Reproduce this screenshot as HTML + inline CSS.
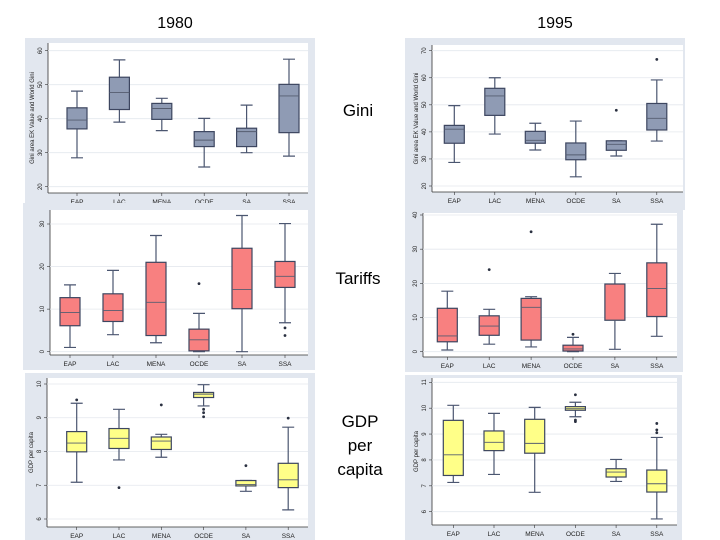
<!DOCTYPE html>
<html><head><meta charset="utf-8"><style>
html,body{margin:0;padding:0;background:#fff;}
svg{display:block;font-family:"Liberation Sans",sans-serif;}
</style></head><body>
<svg id="c" width="720" height="540" viewBox="0 0 720 540">
<text x="175" y="28" font-size="16" text-anchor="middle">1980</text>
<text x="555" y="28" font-size="16" text-anchor="middle">1995</text>
<text x="358" y="116" font-size="17" text-anchor="middle">Gini</text>
<text x="358" y="284" font-size="17" text-anchor="middle">Tariffs</text>
<text x="360" y="427" font-size="17" text-anchor="middle"><tspan x="360">GDP</tspan><tspan x="360" dy="24">per</tspan><tspan x="360" dy="24">capita</tspan></text>
</svg>
<script>
const categories = ["EAP","LAC","MENA","OCDE","SA","SSA"];

const gini80Lo  = [28.5, 39, 36.5, 25.8, 30, 29];
const gini80Q1  = [37, 42.7, 39.8, 31.8, 31.8, 35.9];
const gini80Med = [39.6, 47.7, 43, 33.7, 36.2, 46.7];
const gini80Q3  = [43.2, 52.2, 44.5, 36.2, 37.2, 50.1];
const gini80Hi  = [48.1, 57.3, 46, 40.1, 44, 57.5];
const gini80Out = [[],[],[],[],[],[]];

const gini95Lo  = [28.7, 39.2, 33.3, 23.4, 31.1, 36.6];
const gini95Q1  = [35.8, 46.1, 35.8, 29.7, 33.2, 40.7];
const gini95Med = [41, 53.3, 36.9, 31.5, 35.4, 45];
const gini95Q3  = [42.4, 56.1, 40.2, 35.9, 36.7, 50.5];
const gini95Hi  = [49.7, 60, 43.2, 44, 36.7, 59.2];
const gini95Out = [[],[],[],[],[48],[66.8]];

const tar80Lo  = [1, 4, 2.1, 0, 0, 6.8];
const tar80Q1  = [6.1, 7.1, 3.8, 0.2, 10.1, 15.1];
const tar80Med = [9.2, 9.7, 11.6, 2.8, 14.6, 17.7];
const tar80Q3  = [12.7, 13.6, 21, 5.3, 24.3, 21.2];
const tar80Hi  = [15.7, 19.1, 27.3, 9, 32, 30.1];
const tar80Out = [[],[],[],[16],[],[5.6,3.8]];

const tar95Lo  = [0.5, 2.2, 1.4, 0, 0.7, 4.5];
const tar95Q1  = [2.9, 4.8, 3.4, 0.2, 9.2, 10.3];
const tar95Med = [4.6, 7.5, 13, 0.8, 9.2, 18.5];
const tar95Q3  = [12.7, 10.5, 15.6, 1.9, 19.8, 26];
const tar95Hi  = [17.7, 12.4, 16.1, 4.2, 22.9, 37.3];
const tar95Out = [[],[24],[35.1],[5.1],[],[]];

const gdp80Lo  = [7.09, 7.75, 7.83, 9.35, 6.82, 6.27];
const gdp80Q1  = [7.99, 8.09, 8.06, 9.6, 6.98, 6.93];
const gdp80Med = [8.25, 8.39, 8.31, 9.7, 7.02, 7.16];
const gdp80Q3  = [8.59, 8.68, 8.43, 9.75, 7.14, 7.65];
const gdp80Hi  = [9.43, 9.25, 8.51, 9.98, 7.14, 8.72];
const gdp80Out = [[9.53],[6.93],[9.38],[9.25,9.15,9.03],[7.58],[8.99]];

const gdp95Lo  = [7.13, 7.44, 6.75, 9.67, 7.17, 5.72];
const gdp95Q1  = [7.4, 8.36, 8.26, 9.92, 7.34, 6.76];
const gdp95Med = [8.2, 8.68, 8.64, 9.98, 7.53, 7.08];
const gdp95Q3  = [9.53, 9.12, 9.57, 10.06, 7.66, 7.61];
const gdp95Hi  = [10.11, 9.8, 10.03, 10.23, 8.02, 8.87];
const gdp95Out = [[],[],[],[10.52,9.54,9.48],[],[9.41,9.16,9.05]];

const giniTicks = [20,30,40,50,60];
const gini95Ticks = [20,30,40,50,60,70];
const tar80Ticks = [0,10,20,30];
const tar95Ticks = [0,10,20,30,40];
const gdp80Ticks = [6,7,8,9,10];
const gdp95Ticks = [6,7,8,9,10,11];

const NS="http://www.w3.org/2000/svg";
const svg=document.getElementById('c');
function mk(tag,attrs,parent){const e=document.createElementNS(NS,tag);for(const k in attrs)e.setAttribute(k,attrs[k]);(parent||svg).appendChild(e);return e;}

const panels=[
 {name:"gini-1980",bg:[25,38,290,170],rect:[48,43,308,193],vHi:60,pHi:50.7,vLo:20,pLo:186.7,cx0:77,dx:42.4,fill:"#8f9bb4",ticks:giniTicks,title:"Gini area EK Value and World Gini",
  d:[gini80Lo,gini80Q1,gini80Med,gini80Q3,gini80Hi,gini80Out]},
 {name:"gini-1995",bg:[405,38,280,172],rect:[432,45,683,192],vHi:70,pHi:50.7,vLo:20,pLo:186,cx0:454.3,dx:40.5,fill:"#8f9bb4",ticks:gini95Ticks,title:"Gini area EK Value and World Gini",
  d:[gini95Lo,gini95Q1,gini95Med,gini95Q3,gini95Hi,gini95Out]},
 {name:"tariffs-1980",bg:[23,203,292,167],rect:[50,210,308,355],vHi:30,pHi:224,vLo:0,pLo:351.7,cx0:70,dx:43,fill:"#f88080",ticks:tar80Ticks,title:"",
  d:[tar80Lo,tar80Q1,tar80Med,tar80Q3,tar80Hi,tar80Out]},
 {name:"tariffs-1995",bg:[405,205,278,167],rect:[423,213,677,357],vHi:40,pHi:215,vLo:0,pLo:351.7,cx0:447.3,dx:41.9,fill:"#f88080",ticks:tar95Ticks,title:"",
  d:[tar95Lo,tar95Q1,tar95Med,tar95Q3,tar95Hi,tar95Out]},
 {name:"gdp-1980",bg:[25,373,290,167],rect:[47,378,308,527],vHi:10,pHi:384,vLo:6,pLo:519,cx0:76.7,dx:42.3,fill:"#ffff88",ticks:gdp80Ticks,title:"GDP per capita",
  d:[gdp80Lo,gdp80Q1,gdp80Med,gdp80Q3,gdp80Hi,gdp80Out]},
 {name:"gdp-1995",bg:[405,375,277,165],rect:[432,378,677,525],vHi:11,pHi:382.3,vLo:6,pLo:511.7,cx0:453.3,dx:40.7,fill:"#ffff88",ticks:gdp95Ticks,title:"GDP per capita",
  d:[gdp95Lo,gdp95Q1,gdp95Med,gdp95Q3,gdp95Hi,gdp95Out]}
];

panels.forEach(p=>{
  const g=mk('g',{});
  
  
  const y=v=>p.pHi+(p.vHi-v)*(p.pLo-p.pHi)/(p.vHi-p.vLo);
  const x=i=>p.cx0+i*p.dx;
  const bg=mk('rect',{x:p.bg[0],y:p.bg[1],width:p.bg[2],height:p.bg[3],fill:"#e2e7ef"},g);
  
  
  const r=p.rect;
  const pa=mk('rect',{x:r[0],y:r[1],width:r[2]-r[0],height:r[3]-r[1],fill:"#fff"},g);
  
  
  mk('line',{x1:r[0],y1:r[1],x2:r[0],y2:r[3],stroke:"#333","stroke-width":0.8},g);
  mk('line',{x1:r[0],y1:r[3],x2:r[2],y2:r[3],stroke:"#333","stroke-width":0.8},g);
  p.ticks.forEach(t=>{
    const ty=y(t);
    mk('line',{x1:r[0],y1:ty,x2:r[2],y2:ty,stroke:"#e4e8ee","stroke-width":0.8},g);
    mk('line',{x1:r[0]-3,y1:ty,x2:r[0],y2:ty,stroke:"#333","stroke-width":0.6},g);
    const tl=mk('text',{x:r[0]-6,y:ty,"font-size":6,"text-anchor":"middle",transform:`rotate(-90 ${r[0]-6} ${ty})`,fill:"#222"},g);
    tl.textContent=t;
    
    
  });
  if(p.title){
    const cy=(r[1]+r[3])/2, tx=r[0]-14;
    const yt=mk('text',{x:tx,y:cy,"font-size":6,"text-anchor":"middle",transform:`rotate(-90 ${tx} ${cy})`,fill:"#222"},g);
    yt.textContent=p.title;
    
    
  }
  const [lo,q1,md,q3,hi,out]=p.d;
  categories.forEach((c,i)=>{
    const cx=x(i), w=20;
    mk('line',{x1:cx,y1:r[3],x2:cx,y2:r[3]+3,stroke:"#333","stroke-width":0.6},g);
    const xl=mk('text',{x:cx,y:r[3]+11,"font-size":6.5,"text-anchor":"middle",fill:"#222"},g);
    xl.textContent=c;
    
    
    const wk=mk('path',{d:`M${cx} ${y(lo[i])}V${y(q1[i])}M${cx} ${y(q3[i])}V${y(hi[i])}M${cx-6} ${y(lo[i])}H${cx+6}M${cx-6} ${y(hi[i])}H${cx+6}`,stroke:"#4b5670","stroke-width":1.2,fill:"none"},g);
    
    
    const b=mk('rect',{x:cx-w/2,y:y(q3[i]),width:w,height:Math.max(1,y(q1[i])-y(q3[i])),fill:p.fill,stroke:"#3d4660","stroke-width":1.2},g);
    
    
    const m=mk('line',{x1:cx-w/2,y1:y(md[i]),x2:cx+w/2,y2:y(md[i]),stroke:"#555d70","stroke-width":0.9},g);
    
    
    out[i].forEach(v=>{
      const o=mk('circle',{cx:cx,cy:y(v),r:1.4,fill:"#2a3040"},g);
      
      
    });
  });
});
</script>
</body></html>
